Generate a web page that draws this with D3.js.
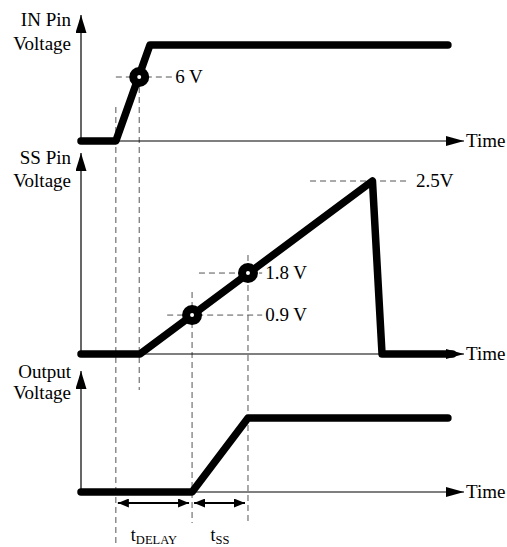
<!DOCTYPE html>
<html><head><meta charset="utf-8">
<script src="https://cdn.jsdelivr.net/npm/d3@7/dist/d3.min.js"></script>
<style>
html,body{margin:0;padding:0;background:#fff;}
</style></head>
<body><svg id="c" width="507" height="547"></svg>
<script>
// ---- data (time in arbitrary units 0..100) ----
const inTime   = [0, 9.1, 18, 95.8];
const inLevel  = [0, 0, 9, 9];            // volts
const ssTime   = [0, 15.4, 76.1, 78.6, 97];
const ssLevel  = [0, 0, 100, 0, 0];        // % of 2.5 V peak (schematic)
const outTime  = [0, 29, 43.6, 95.8];
const outLevel = [0, 0, 1, 1];             // normalised
const inMarkTime = [15.2], inMarkLevel = [6], inMarkLabel = ["6 V"];
const ssMarkTime = [29, 43.6], ssMarkLevel = [22.5, 46.8], ssMarkLabel = ["0.9 V", "1.8 V"];
const ssPeakLabel = "2.5V";
const panelNames = [["IN Pin", "Voltage"], ["SS Pin", "Voltage"], ["Output", "Voltage"]];
const axisLabel = "Time";

const FONT = "'Liberation Serif', 'Times New Roman', 'DejaVu Serif', serif";
const svg = d3.select("#c");
const x = d3.scaleLinear().domain([0, 100]).range([81, 464]);
const yIn  = d3.scaleLinear().domain([0, 9]).range([141, 45]);
const ySS  = d3.scaleLinear().domain([0, 100]).range([354, 181]);
const yOut = d3.scaleLinear().domain([0, 1]).range([492, 418]);

const defs = svg.append("defs");
defs.append("marker").attr("id","ah").attr("viewBox","0 0 18 10").attr("refX",18).attr("refY",5)
  .attr("markerWidth",18).attr("markerHeight",10).attr("markerUnits","userSpaceOnUse").attr("orient","auto")
  .append("path").attr("d","M0,0L18,5L0,10Z").attr("fill","#000");
defs.append("marker").attr("id","ahv").attr("viewBox","0 0 11 18").attr("refX",5.5).attr("refY",0)
  .attr("markerWidth",11).attr("markerHeight",18).attr("markerUnits","userSpaceOnUse").attr("orient","0")
  .append("path").attr("d","M5.5,0L11,18L0,18Z").attr("fill","#000");
defs.append("marker").attr("id","sa").attr("viewBox","0 0 11 9").attr("refX",11).attr("refY",4.5)
  .attr("markerWidth",11).attr("markerHeight",9).attr("markerUnits","userSpaceOnUse").attr("orient","auto-start-reverse")
  .append("path").attr("d","M0,0L11,4.5L0,9Z").attr("fill","#000");

const panels = [
  {y: yIn, top: 15, names: panelNames[0], ly: [26, 50]},
  {y: ySS, top: 153, names: panelNames[1], ly: [164, 187]},
  {y: yOut, top: 371, names: panelNames[2], ly: [378, 399]}
];

const txt = (tx, ty, s, anchor, fs) => svg.append("text").attr("x",tx).attr("y",ty)
  .attr("font-family",FONT).attr("font-size",fs || 19).attr("fill","#000")
  .attr("text-anchor",anchor || "start").text(s);

// dashed guides
const dash = (x1,y1,x2,y2) => svg.append("line").attr("x1",x1).attr("y1",y1).attr("x2",x2).attr("y2",y2)
  .attr("stroke","#555").attr("stroke-width",1).attr("stroke-dasharray","6,4");
dash(x(inTime[1]), 107, x(inTime[1]), 547);
dash(x(inMarkTime[0]), yIn(inMarkLevel[0]), x(inMarkTime[0]), 390);
dash(x(ssMarkTime[0]), 292, x(ssMarkTime[0]), 523);
dash(x(ssMarkTime[1]), 255, x(ssMarkTime[1]), 523);
dash(x(inTime[1]), yIn(inMarkLevel[0]), x(23.8), yIn(inMarkLevel[0]));
dash(x(22.5), ySS(ssMarkLevel[0]), x(47.3), ySS(ssMarkLevel[0]));
dash(x(30.8), ySS(ssMarkLevel[1]), x(47.3), ySS(ssMarkLevel[1]));
dash(x(59.8), ySS(100), x(85.9), ySS(100));

// axes
panels.forEach(p => {
  const b = p.y(0);
  svg.append("line").attr("x1",x(0)).attr("y1",b).attr("x2",x(0)).attr("y2",p.top)
    .attr("stroke","#000").attr("stroke-width",1.2).attr("marker-end","url(#ahv)");
  svg.append("line").attr("x1",x(0)).attr("y1",b).attr("x2",x(100)).attr("y2",b)
    .attr("stroke","#000").attr("stroke-width",1.2).attr("marker-end","url(#ah)");
  txt(466, b+6, axisLabel);
  p.names.forEach((n,i) => txt(71, p.ly[i], n, "end"));
});

// signals
const sig = (ts, vs, y) => {
  const line = d3.line().x(d => x(d[0])).y(d => y(d[1]));
  svg.append("path").attr("d", line(ts.map((t,i) => [t, vs[i]]))).attr("fill","none")
    .attr("stroke","#000").attr("stroke-width",7.5).attr("stroke-linecap","round").attr("stroke-linejoin","round");
};
sig(inTime, inLevel, yIn);
sig(ssTime, ssLevel, ySS);
sig(outTime, outLevel, yOut);

// markers
const mark = (t, v, y) => svg.append("circle").attr("cx",x(t)).attr("cy",y(v)).attr("r",6)
  .attr("fill","#fff").attr("stroke","#000").attr("stroke-width",8);
inMarkTime.forEach((t,i) => mark(t, inMarkLevel[i], yIn));
ssMarkTime.forEach((t,i) => mark(t, ssMarkLevel[i], ySS));

// value labels
txt(x(23.8)+3, yIn(inMarkLevel[0])+6, inMarkLabel[0]);
txt(x(47.3)+3, ySS(ssMarkLevel[0])+6, ssMarkLabel[0]);
txt(x(47.3)+3, ySS(ssMarkLevel[1])+6, ssMarkLabel[1]);
txt(x(85.9)+6, ySS(100)+6, ssPeakLabel);

// timing arrows
const dbl = (x1, x2) => svg.append("line").attr("x1",x1).attr("y1",503).attr("x2",x2).attr("y2",503)
  .attr("stroke","#000").attr("stroke-width",2).attr("marker-start","url(#sa)").attr("marker-end","url(#sa)");
dbl(x(inTime[1])+2, x(outTime[1])-3);
dbl(x(outTime[1])+2, x(outTime[2])-3);
const sub = (cx, main, s) => {
  const t = txt(cx, 541, "", "middle", 18);
  t.append("tspan").text(main);
  t.append("tspan").attr("font-size",12.5).attr("dy",3).text(s);
};
sub((x(inTime[1])+x(outTime[1]))/2, "t", "DELAY");
sub((x(outTime[1])+x(outTime[2]))/2, "t", "SS");
</script></body></html>
